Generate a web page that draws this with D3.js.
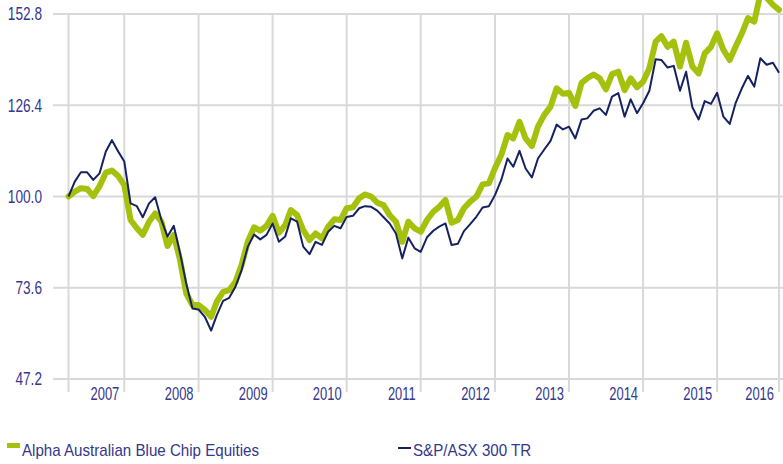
<!DOCTYPE html>
<html>
<head>
<meta charset="utf-8">
<script src="https://cdn.jsdelivr.net/npm/d3@7"></script>
<style>
html,body{margin:0;padding:0;background:#fff;}
svg{display:block;}
text{font-family:"Liberation Sans",Arial,sans-serif;fill:#35378c;}
</style>
</head>
<body>
<div id="chart"></div>
<script>
// ---- data ----
const startMonth = "2007-03-01";
const seriesNames = ["Alpha Australian Blue Chip Equities", "S&P/ASX 300 TR"];
const alphaValues = [
100,101.4,102.4,102.2,100.1,103.0,106.9,107.5,105.9,103.3,
93.2,90.8,88.9,92.7,95.1,92.7,85.7,88.9,81.6,72.0,
68.6,68.6,67.2,65.2,69.6,72.4,72.9,75.3,80.2,87.0,
91.1,90.1,91.5,94.4,89.5,91.7,96.1,94.6,90.3,87.4,
89.3,87.9,91.3,93.4,93.2,96.6,96.9,99.5,100.6,100.0,
98.2,97.5,94.6,92.7,86.9,92.7,90.8,89.8,93.2,95.6,
97.0,99.0,92.4,93.2,96.6,98.5,100.0,103.5,103.8,108.2,
112.0,117.8,116.8,121.6,116.8,114.6,120.2,123.6,126.0,131.3,
129.7,130.0,126.2,132.9,134.2,135.3,134.2,131.0,135.4,136.1,
130.8,134.2,131.6,133.2,137.1,144.8,146.4,143.3,144.8,137.6,
144.5,137.6,135.6,141.4,143.3,147.2,142.4,139.5,143.3,147.2,
151.6,150.6,158.5,157.5,155.5,154.0];
const asxValues = [
100,104.3,107.0,107.0,104.8,106.7,113.0,116.3,113.0,110.1,
98.0,97.2,94.0,98.0,99.8,93.2,88.4,91.5,83.6,74.9,
67.6,67.3,65.2,61.2,65.7,69.8,70.7,73.9,78.7,85.5,
89.0,87.6,88.9,92.2,86.9,88.4,93.7,92.7,85.5,83.3,
86.9,86.0,89.8,91.5,90.8,94.1,94.4,96.6,97.2,97.0,
95.9,94.0,92.2,89.3,82.1,88.1,85.0,84.0,88.2,90.1,
91.3,92.2,86.0,86.3,90.0,92.0,94.2,96.8,97.2,100.4,
104.8,111.0,108.6,113.2,108.1,105.5,111.0,113.6,116.1,120.8,
119.4,120.2,116.8,122.3,122.6,124.8,125.5,123.6,128.9,129.9,
123.1,128.1,124.1,127.0,130.6,139.7,139.5,137.3,137.8,130.6,
136.1,125.8,122.3,127.6,126.8,130.0,123.1,121.0,127.0,131.3,
134.9,131.8,140.0,138.1,138.7,135.8];
const yTicks = [47.2, 73.6, 100.0, 126.4, 152.8];
const yearLabels = ["2007","2008","2009","2010","2011","2012","2013","2014","2015","2016"];

// ---- layout ----
const W = 783, H = 464;
const x0 = 68.5, x1 = 779, yTop = 14, yBot = 379;
const green = "#a5c10d", navy = "#15225f", grid = "#d9d9d9";

const parse = d3.timeParse("%Y-%m-%d");
const start = parse(startMonth);
const dates = alphaValues.map((_, i) => d3.timeMonth.offset(start, i));

const x = d3.scaleTime().domain([dates[0], dates[dates.length - 1]]).range([x0, x1]);
const y = d3.scaleLinear().domain([yTicks[0], yTicks[yTicks.length - 1]]).range([yBot, yTop]);

// tick positions: December of each year plus the final month
const tickDates = dates.filter(d => d.getMonth() === 11).concat([dates[dates.length - 1]]);

const svg = d3.select("#chart").append("svg").attr("width", W).attr("height", H);

// horizontal grid
svg.append("g").selectAll("line").data(yTicks).join("line")
  .attr("x1", 53).attr("x2", W)
  .attr("y1", d => y(d)).attr("y2", d => y(d))
  .attr("stroke", grid).attr("stroke-width", 2);

// vertical grid (start + year ticks)
svg.append("g").selectAll("line").data([dates[0]].concat(tickDates)).join("line")
  .attr("x1", d => x(d)).attr("x2", d => x(d))
  .attr("y1", yTop).attr("y2", 392)
  .attr("stroke", grid).attr("stroke-width", 2);

// y labels (condensed look via horizontal scale)
svg.append("g").selectAll("text").data(yTicks).join("text")
  .attr("transform", d => `translate(42,${y(d)}) scale(0.78,1)`)
  .attr("dy", "0.36em")
  .attr("text-anchor", "end").attr("font-size", "17.5px")
  .text(d => d.toFixed(1));

// x labels
svg.append("g").selectAll("text").data(tickDates).join("text")
  .attr("transform", d => `translate(${x(d) - 5},400) scale(0.74,1)`)
  .attr("text-anchor", "end").attr("font-size", "17.5px")
  .text((d, i) => yearLabels[i]);

// lines
const line = d3.line().x((d, i) => x(dates[i])).y(d => y(d));
svg.append("path").datum(alphaValues).attr("d", line)
  .attr("fill", "none").attr("stroke", green).attr("stroke-width", 6)
  .attr("stroke-linejoin", "round").attr("stroke-linecap", "round");
svg.append("path").datum(asxValues).attr("d", line)
  .attr("fill", "none").attr("stroke", navy).attr("stroke-width", 2)
  .attr("stroke-linejoin", "round");

// legend
const lg = svg.append("g");
lg.append("rect").attr("x", 7).attr("y", 443).attr("width", 13).attr("height", 5).attr("fill", green);
lg.append("text").attr("transform", "translate(22,456) scale(0.89,1)").attr("font-size", "17px").text(seriesNames[0]);
lg.append("rect").attr("x", 398).attr("y", 447).attr("width", 13).attr("height", 2).attr("fill", navy);
lg.append("text").attr("transform", "translate(413,456) scale(0.89,1)").attr("font-size", "17px").text(seriesNames[1]);
</script>
</body>
</html>
